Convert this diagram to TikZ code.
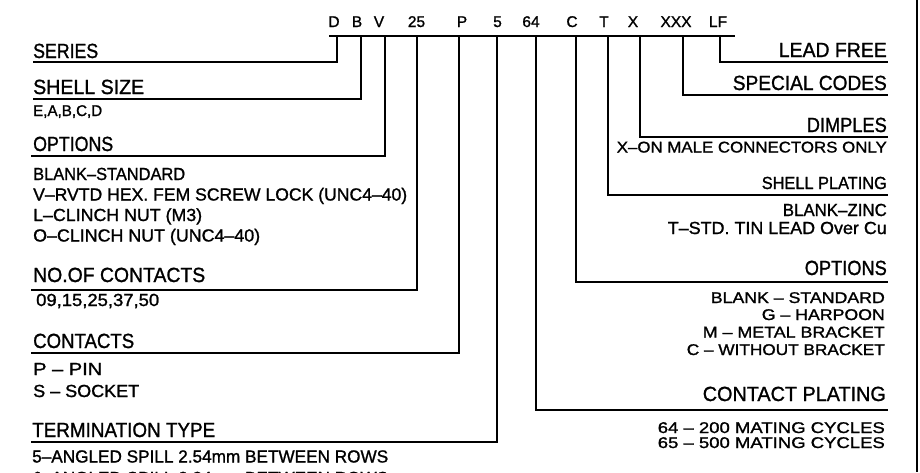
\documentclass[tikz,border=0pt]{standalone}
\usepackage{fontspec}
\usepackage{graphicx}
\setmainfont{Liberation Sans}[FakeBold=1.2]
\newcommand{\fitw}[2]{\resizebox{#1pt}{\height}{#2}}
\tikzset{
  ln/.style={line width=1.4pt, line join=miter},
  hd/.style={inner sep=0pt, font=\fontsize{20.5}{21}\selectfont},
  md/.style={inner sep=0pt, font=\fontsize{17.5}{18}\selectfont},
  sm/.style={inner sep=0pt, font=\fontsize{15.5}{16}\selectfont},
  cd/.style={inner sep=0pt, anchor=base, font=\fontsize{15.5}{16}\selectfont},
  lt/.style={anchor=base west},
  rt/.style={anchor=base east},
}
\begin{document}
\begin{tikzpicture}[x=1pt,y=-1pt]
\useasboundingbox (0,0) rectangle (920,472);
\clip (0,0) rectangle (920,472);
\fill[white] (0,0) rectangle (920,472);

% code letters
\node[cd] (cD) at (334,27) {D};
\node[cd] (cB) at (357,27) {B};
\node[cd] (cV) at (379,27) {V};
\node[cd] (c25) at (416.5,27) {25};
\node[cd] (cP) at (462,27) {P};
\node[cd] (c5) at (497.5,27) {5};
\node[cd] (c64) at (531,27) {64};
\node[cd] (cC) at (572,27) {C};
\node[cd] (cT) at (604,27) {T};
\node[cd] (cX) at (633,27) {X};
\node[cd] (cXXX) at (676,27) {XXX};
\node[cd] (cLF) at (718,27) {LF};

% left labels
\node[hd,lt] (series) at (33,58) {\fitw{65}{SERIES}};
\node[hd,lt] (shell) at (33,94) {\fitw{111}{SHELL SIZE}};
\node[sm,lt] (shellv) at (33,116) {\fitw{69}{E,A,B,C,D}};
\node[hd,lt] (optl) at (33,151) {\fitw{80}{OPTIONS}};
\node[md,lt] (optl1) at (33,180) {\fitw{152}{BLANK–STANDARD}};
\node[md,lt] (optl2) at (33,200.5) {\fitw{374}{V–RVTD HEX. FEM SCREW LOCK (UNC4–40)}};
\node[md,lt] (optl3) at (33,221) {\fitw{169}{L–CLINCH NUT (M3)}};
\node[md,lt] (optl4) at (33,241.5) {\fitw{227}{O–CLINCH NUT (UNC4–40)}};
\node[hd,lt] (noc) at (33,282) {\fitw{172}{NO.OF CONTACTS}};
\node[md,lt] (nocv) at (36,306) {\fitw{123}{09,15,25,37,50}};
\node[hd,lt] (cont) at (33,348) {\fitw{101}{CONTACTS}};
\node[md,lt] (cont1) at (33,375) {\fitw{69}{P – PIN}};
\node[md,lt] (cont2) at (33,397) {\fitw{106}{S – SOCKET}};
\node[hd,lt] (term) at (32,437) {\fitw{183}{TERMINATION TYPE}};
\node[md,lt] (term1) at (32,462.5) {\fitw{356}{5–ANGLED SPILL 2.54mm BETWEEN ROWS}};
\node[md,lt] (term2) at (32,484) {\fitw{356}{6–ANGLED SPILL 2.84mm BETWEEN ROWS}};

% right labels
\node[hd,rt] (lf) at (887,57) {\fitw{108}{LEAD FREE}};
\node[hd,rt] (spc) at (887,90) {\fitw{154}{SPECIAL CODES}};
\node[hd,rt] (dim) at (887,132) {\fitw{80}{DIMPLES}};
\node[sm,rt] (dim1) at (887,152.5) {\fitw{270}{X–ON MALE CONNECTORS ONLY}};
\node[md,rt] (shp) at (887,189) {\fitw{125}{SHELL PLATING}};
\node[md,rt] (shp1) at (887,216) {\fitw{104}{BLANK–ZINC}};
\node[md,rt] (shp2) at (887,234) {\fitw{219}{T–STD. TIN LEAD Over Cu}};
\node[hd,rt] (optr) at (887,275) {\fitw{82}{OPTIONS}};
\node[sm,rt] (optr1) at (885,303) {\fitw{174}{BLANK – STANDARD}};
\node[sm,rt] (optr2) at (885,320) {\fitw{123}{G – HARPOON}};
\node[sm,rt] (optr3) at (885,337.5) {\fitw{182}{M – METAL BRACKET}};
\node[sm,rt] (optr4) at (885,355) {\fitw{198}{C – WITHOUT BRACKET}};
\node[hd,rt] (cpl) at (886,401) {\fitw{183}{CONTACT PLATING}};
\node[sm,rt] (cpl1) at (885,433) {\fitw{227}{64 – 200 MATING CYCLES}};
\node[sm,rt] (cpl2) at (885,448) {\fitw{227}{65 – 500 MATING CYCLES}};

% top bar
\coordinate (barL) at (329,36);
\coordinate (barR) at (735,36);
\draw[ln] (barL) -- (barR);

% junctions on the bar
\coordinate (jD) at (337,36);
\coordinate (jB) at (361,36);
\coordinate (jV) at (385,36);
\coordinate (j25) at (417,36);
\coordinate (jP) at (459,36);
\coordinate (j5) at (497,36);
\coordinate (j64) at (536,36);
\coordinate (jC) at (576,36);
\coordinate (jT) at (608,36);
\coordinate (jX) at (640,36);
\coordinate (jXXX) at (683,36);
\coordinate (jLF) at (720,36);

% free ends of underlines
\coordinate (eSeries) at (33,62);
\coordinate (eShell) at (33,99);
\coordinate (eOpt) at (31,156);
\coordinate (eNoc) at (31,290);
\coordinate (eCont) at (31,353);
\coordinate (eTerm) at (31,442);
\coordinate (eLF) at (888,62);
\coordinate (eSpc) at (888,95);
\coordinate (eDim) at (888,137);
\coordinate (eShp) at (888,195);
\coordinate (eOptr) at (888,282);
\coordinate (eCpl) at (888,410);

\draw[ln] (jD) |- (eSeries);
\draw[ln] (jB) |- (eShell);
\draw[ln] (jV) |- (eOpt);
\draw[ln] (j25) |- (eNoc);
\draw[ln] (jP) |- (eCont);
\draw[ln] (j5) |- (eTerm);
\draw[ln] (j64) |- (eCpl);
\draw[ln] (jC) |- (eOptr);
\draw[ln] (jT) |- (eShp);
\draw[ln] (jX) |- (eDim);
\draw[ln] (jXXX) |- (eSpc);
\draw[ln] (jLF) |- (eLF);

% right frame line
\coordinate (frT) at (917,0);
\coordinate (frB) at (917,472);
\draw[ln] (frT) -- (frB);
\end{tikzpicture}
\end{document}
